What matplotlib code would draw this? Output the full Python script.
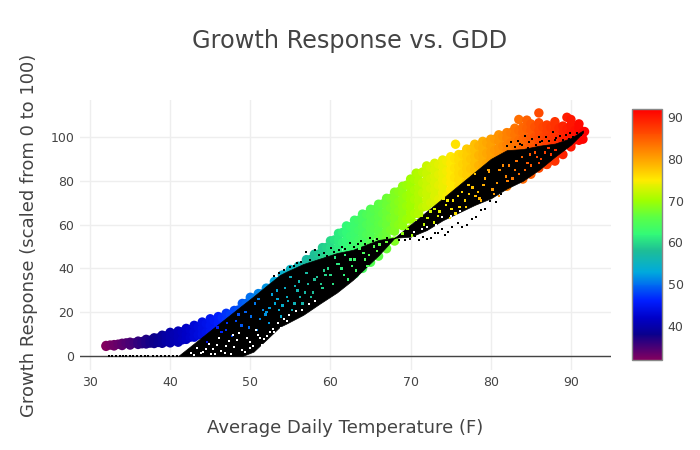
import matplotlib
matplotlib.use('Agg')
import matplotlib.pyplot as plt
import numpy as np
from matplotlib.colors import LinearSegmentedColormap, Normalize

# coloured cloud (temp, response)
top_x = list(range(32, 92))
top_y = [4.8, 5.2, 5.8, 6.3, 6.8, 7.6, 8.3, 9.5, 10.8, 11.4, 12.6, 14, 15.5, 17, 18, 19.5, 20.8, 24, 26.8, 28.5,
         31, 34, 37, 39.5, 41, 44, 46.5, 49.5, 52.6, 56, 59.4, 62, 64.8, 67, 69.3, 72, 74.8, 77.5, 80.8, 83,
         86.8, 88, 89.5, 91, 92, 94.5, 96.7, 98, 99, 101, 102, 104, 104.5, 106, 106.5, 105.5, 106, 105, 105.5, 104]
b_x = list(range(36, 92))
b_y = [6, 6.5, 7, 7.8, 8.4, 8.9, 9.8, 11, 12.5, 14, 15, 16.5, 18, 21, 23.5, 25.5, 28, 31, 34, 36.5,
       38, 41, 43.5, 46.5, 49.5, 53, 56.5, 59, 62, 64, 66.5, 69, 72, 74.5, 77.5, 80, 83.5, 85, 86.5, 88,
       89.5, 91.5, 94, 95, 96, 98, 99.5, 101, 102, 103, 103, 102.5, 103, 102, 102.5, 101]
c_x = list(range(42, 92))
c_y = [7.6, 8.6, 10, 11, 12, 13.5, 15, 18, 20.5, 22.5, 25, 28, 31, 33.5, 35, 38, 40.5, 43.5, 46.5, 50,
       53, 56, 59, 61, 63.5, 66, 69, 71.5, 74.5, 77, 80.5, 82, 83.5, 85, 86.5, 88.5, 91, 92, 93, 95,
       96.5, 98, 99, 100, 100, 99.5, 100, 99, 99.5, 99]
d_x = list(range(58, 91))
d_y = [38, 41, 44, 47, 50, 53, 56, 58, 60.5, 63, 66, 68.5, 71.5, 74, 77.5, 79, 80.5, 82, 83.5, 85.5,
       88, 89, 90, 92, 93.5, 95, 96, 97, 97, 96.5, 97, 96, 97]
e_x = list(range(62, 89))
e_y = [47, 50, 53, 55, 57.5, 60, 63, 65.5, 68.5, 71, 74.5, 76, 77.5, 79, 80.5, 82.5, 85, 86, 87, 89,
       90.5, 92, 93, 94, 94, 93.5, 94]
f_x = list(range(64, 89))
f_y = [50, 52, 54.5, 57, 60, 62.5, 65.5, 68, 71.5, 73, 74.5, 76, 77.5, 79.5, 82, 83, 84, 86, 87.5, 89,
       90, 91, 91, 90.5, 91]
g_x = list(range(66, 88))
g_y = [51.5, 54, 57, 59.5, 62.5, 65, 68.5, 70, 71.5, 73, 74.5, 76.5, 79, 80, 81, 83, 84.5, 86, 87, 88,
       88, 87.5]
low_x = [32, 33, 34, 35, 36, 37, 38, 39, 40, 41, 62, 63, 64, 65, 66, 67, 68, 70, 72, 74, 76, 78, 80, 82, 84, 85, 86, 87, 88, 89, 90, 91]
low_y = [4.4, 4.6, 4.8, 5, 5.3, 5.5, 5.7, 5.8, 6, 6.3, 35.5, 37.5, 40, 42.8, 45.6, 49, 52.5, 58, 62, 66, 68, 71, 74, 77.5, 80.8, 83, 85.8, 87.5, 89, 92, 95.5, 98.5]
peak_x = [70.7, 75.6, 83.5, 84.5, 86, 88, 89.5, 90, 91, 91.7]
peak_y = [83.5, 96.7, 108, 107.7, 111, 107, 109, 108, 106, 102.5]

# same cloud, columns in between
h1_x = [32.5 + i for i in range(60)]
h1_y = [5, 5.4, 6, 6, 6.6, 7.2, 8.2, 9.2, 9.9, 11, 12, 13.3, 14.8, 16.2, 17.4, 18.8, 21, 24, 26.4, 28.4,
        31, 34, 37, 38.8, 41, 44, 46.5, 49.6, 53, 56.4, 59, 62, 64.5, 66.8, 69.4, 72, 75, 78, 80.6, 84,
        86, 87.5, 89, 90.2, 92, 94.4, 96, 97.4, 99, 100.4, 102, 103, 104, 104.6, 104.5, 104.4, 104, 103.6, 103, 102]
h2_x = [36.5 + i for i in range(56)]
h2_y = [5.6, 5.9, 6.2, 6.6, 7, 7.4, 8.6, 9.6, 10.8, 11.8, 13, 14.6, 16.8, 19.4, 21.6, 24, 26.8, 29.8, 32.6, 34.5,
        36.8, 39.5, 42.2, 45.2, 48.5, 51.8, 54.8, 57.4, 60, 62.4, 65, 67.6, 70.4, 73, 75.8, 79, 81, 82.8, 84.4, 85.8,
        87.6, 90, 91.6, 92.6, 94, 95.8, 97.4, 98.6, 99.5, 100, 99.8, 99.8, 99.5, 99.2, 98.8, 99]
h3_x = [62.5 + i for i in range(24)]
h3_y = [50, 53, 55.5, 58, 60.5, 63, 66, 68.5, 71.5, 74.5, 76.5, 78, 80, 81.5, 83.5, 85.5, 87, 88, 89.5, 91,
        92.5, 93.5, 94, 95]
h4_x = [66.5 + i for i in range(14)]
h4_y = [55, 57.5, 60, 62.5, 65, 68, 70, 71.5, 73, 74.5, 76.5, 78.5, 80, 81]

# outline of the part of the black cloud that is too dense to tell dots apart
band_x = [41, 42, 44, 46, 48, 49, 50.4, 52, 53.7, 54.5, 56.6, 58.7, 60.8, 62.8, 64.9, 66, 68, 70, 72, 74, 76, 78, 80, 82, 84, 86, 88, 90, 91.5]
band_hi = [0, 2.9, 8.7, 14.5, 20.3, 23.2, 27.2, 32, 37, 38.5, 42, 44.5, 47, 48.5, 51.5, 53, 54, 60, 66, 72, 78, 84, 90, 94, 94.5, 96, 97, 99.5, 103]
band_lo = [0, 0, 0, 0, 0, 0, 2, 7.5, 13.4, 14.8, 18.8, 24, 29, 34.8, 42.2, 46, 54, 54.5, 57.5, 62, 65.5, 69, 72, 76.5, 80, 85, 91, 96.5, 102]

# single black dots around the dense part
dot_x = [32.4, 32.8, 33.2, 33.7, 34.1, 34.5, 35, 35.4, 35.9, 36.3, 36.8, 37.2, 37.8, 38.3, 38.9, 39.3, 39.9, 40.4, 40.9,
         53, 53.6, 54.2, 54.9, 55.4, 55.8, 56.3, 57, 57.5, 58.1, 58.6, 59.2, 59.6, 60.1, 60.5, 61.1, 61.5, 61.8, 62.4, 62.9, 63.4, 63.8,
         64.3, 64.9, 65.3, 65.8, 66.3, 67, 67.5,
         68.6, 69.3, 69.9, 70.5, 71, 71.6, 72.1, 72.6, 73, 73.4, 73.9, 74.3, 74.7, 75.2, 75.9, 76.4, 77, 77.6, 78.2, 78.8, 79.3, 79.9, 80.6, 81.3,
         82, 82.5, 83, 83.4, 83.9, 84.3, 84.8, 85.2, 85.6, 86, 86.4, 86.9, 87.3, 87.8, 88.2, 88.6, 89, 89.4, 89.9, 90.3, 90.8, 91.2,
         82.6, 83.6, 84.6, 85.4, 86.2, 87.1, 88, 88.9, 89.7, 90.6]
dot_y = [0, 0, 0, 0, 0, 0, 0, 0, 0, 0, 0, 0, 0, 0, 0, 0, 0, 0, 0,
         36.5, 38, 39.5, 40.5, 41, 42.5, 43, 47.6, 44, 48.4, 46, 47, 45.5, 49.2, 47.5, 48.5, 50, 49, 51.6, 50, 51, 52.5,
         51, 53.9, 52.5, 53.5, 52, 54, 53,
         53, 52.8, 53.5, 55, 53, 54.5, 53.5, 53.8, 56.2, 56, 57.8, 55.2, 56.8, 59, 60.6, 59, 59.8, 62.5, 63.6, 66.5, 67, 71, 70.5, 74,
         96, 97.5, 95.5, 98, 96.5, 100.5, 97.5, 99, 96.5, 100, 98, 99.8, 98, 102.4, 99.5, 100.5, 98.5, 101, 101.8, 100, 102, 101,
         93, 97, 95, 94.5, 97.5, 96, 98.5, 96, 99, 99]

# specks of the coloured cloud that show through the black dots
speck_x = [44.6, 46.4, 47.7, 48.9, 50.1, 50.8, 51.6, 52.3, 53.1, 53.8, 54.6, 55.2, 55.9, 56.5, 57.2,
           45.9, 47.1, 48.2, 49.4, 50.6, 51.2, 51.9, 52.7, 53.6, 54.3, 55.5, 56.1, 57.6, 58.3, 59, 59.7, 60.3, 61, 61.7, 62.5, 63.2, 64.1,
           52, 53.4, 54.7, 55.6, 56.8, 57.8, 58.8, 59.4, 60, 60.9, 61.8, 62.7, 63.6, 64.3, 64.8, 65.4, 66.1, 67, 65.8,
           69.6, 70.6, 71.7, 72.5, 73.4, 74.4, 75.1, 75.9, 76.8, 77.7, 78.4, 79.3, 80.2, 81.1, 82.1, 83.2, 84.3, 85.5,
           69, 71.1, 72.1, 72.9, 74.1, 75.6, 76.4, 76.9, 78, 78.8, 79.1, 80.4, 81.5, 82.7, 83.9, 85, 86.3, 87.2, 88.1,
           73.6, 74.9, 75.3, 77.3, 78.1, 79.7, 80.8, 81.9, 83, 84.6, 85.8, 86.8,
           47, 48.5, 49.8, 51, 52.4, 53.3, 54, 55, 56.2, 57, 58, 59.2, 60.6, 61.4, 62.2, 63, 64.6,
           70.2, 71.4, 73, 74.6, 76.1, 77.2, 78.6, 79.8, 81, 82.3, 83.5, 84.9, 86, 87.5]
speck_y = [6.5, 11, 9, 14, 18, 12, 21, 15, 24, 18, 27, 21, 30, 24, 33,
           13, 15, 16, 20, 24, 17, 19, 28, 21, 31, 24, 34, 27, 36, 31, 40, 33, 42, 37, 44, 39, 47,
           20, 26, 25, 32, 29, 29, 33, 37, 37, 42, 46, 41, 49, 44, 46, 50, 51, 52, 48,
           58, 62, 60, 66, 64, 69, 67, 73, 71, 77, 75, 81, 76, 85, 80, 89, 85, 93,
           56, 64, 63, 61, 72, 65, 75, 68, 83, 71, 78, 74, 87, 81, 91, 87, 90, 95, 94,
           66, 63, 71, 74, 73, 85, 79, 82, 85, 88, 91, 93,
           12, 19, 13, 26, 22, 30, 23, 36, 27, 38, 35, 39, 45, 40, 35, 44, 41,
           55, 64, 67, 71, 68, 78, 72, 84, 73, 87, 83, 92, 88, 92]
# gaps in the black dots where the page shows through
hole_x = [42.6, 43.4, 44.1, 44.8, 45.4, 46.1, 46.8, 47.3, 48, 48.6, 49.3, 50, 50.7, 51.4, 52.1, 52.8, 53.5, 54.2,
          43, 43.8, 44.5, 45.1, 45.8, 46.4, 47, 47.6, 48.3, 48.9, 49.6, 50.3, 51, 51.7, 52.4, 53.1, 53.8, 54.6,
          45.6, 47.9, 49.9, 51.2, 53, 54.8, 55.7, 56.4, 57.3, 58.1,
          70.4, 71.4, 72.1, 73.2, 73.9, 75, 76.2]
hole_y = [1.2, 3.5, 1.8, 5.6, 3, 8.2, 1.4, 6.8, 4.2, 10.5, 2, 6.5, 12, 5, 9, 12.5, 15, 17,
          0.6, 1.5, 3.4, 1, 5, 2.4, 4.4, 0.8, 7.2, 2.8, 8, 4.6, 9.6, 7.8, 11, 9.8, 13, 16,
          0.8, 9.5, 3.6, 8.4, 10.8, 18.5, 20.5, 21, 23.6, 25,
          56.5, 57.8, 59, 60, 63.5, 64, 66]

tick_vals_x = [30, 40, 50, 60, 70, 80, 90]
tick_vals_y = [0, 20, 40, 60, 80, 100]
bar_ticks = [40, 50, 60, 70, 80, 90]
stop_temps = [32, 38, 42, 46, 50, 53, 58, 62, 66, 70, 75, 78, 85, 91.8]
stop_cols = ['#82005f', '#0a008c', '#0000c8', '#001eff', '#006ef0', '#00aadc', '#1ebe96', '#32fa78',
             '#5aff46', '#a0ff00', '#ffeb00', '#ffbe00', '#ff5a00', '#ff0000']

W, H = 700.0, 450.0
text_col = '#444444'

norm = Normalize(32, 91.8)
rainbow = LinearSegmentedColormap.from_list('temp', [(norm(t), c) for t, c in zip(stop_temps, stop_cols)], N=256)

fig = plt.figure(figsize=(7, 4.5), dpi=100)
ax = fig.add_axes([80 / W, 1 - 370 / H, 531 / W, 270 / H])

all_x = np.array(top_x + b_x + c_x + d_x + e_x + f_x + g_x + low_x + peak_x + h1_x + h2_x + h3_x + h4_x, dtype=float)
all_y = np.array(top_y + b_y + c_y + d_y + e_y + f_y + g_y + low_y + peak_y + h1_y + h2_y + h3_y + h4_y, dtype=float)
order = np.argsort(all_x)
sc = ax.scatter(all_x[order], all_y[order], c=all_x[order], cmap=rainbow, norm=norm, s=46, linewidths=0, zorder=3)

ax.fill_between(band_x, band_lo, band_hi, color='black', linewidth=0.5, zorder=4)
ax.scatter(dot_x, dot_y, color='black', s=4, marker='s', linewidths=0, zorder=5)
ax.scatter(speck_x, speck_y, c=speck_x, cmap=rainbow, norm=norm, s=3, marker='s', linewidths=0, zorder=5)
ax.scatter(hole_x, hole_y, color='white', s=3, marker='s', linewidths=0, zorder=5)

ax.set_xlim(28.75, 95)
ax.set_ylim(-6.39, 116.9)
ax.set_xticks(tick_vals_x)
ax.set_yticks(tick_vals_y)
ax.grid(color='#eeeeee', linewidth=1)
ax.set_axisbelow(True)
ax.axhline(0, color=text_col, linewidth=1, zorder=2)
for s in ax.spines.values():
    s.set_visible(False)
ax.tick_params(length=0, labelsize=9, labelcolor=text_col, pad=4)

cax = fig.add_axes([632 / W, 1 - 360 / H, 30 / W, 251 / H])
cb = fig.colorbar(sc, cax=cax, ticks=bar_ticks)
cb.outline.set_edgecolor('#888888')
cb.outline.set_linewidth(1)
cb.ax.tick_params(length=0, labelsize=9, labelcolor=text_col, pad=4)

fig.text(350 / W, 1 - 41 / H, 'Growth Response vs. GDD', ha='center', va='center', fontsize=17.3, color=text_col)
fig.text(345 / W, 1 - 428 / H, 'Average Daily Temperature (F)', ha='center', va='center', fontsize=13, color=text_col)
fig.text(29 / W, 1 - 235 / H, 'Growth Response (scaled from 0 to 100)', ha='center', va='center', rotation=90,
         fontsize=13, color=text_col)

fig.savefig('out.png', dpi=100)
